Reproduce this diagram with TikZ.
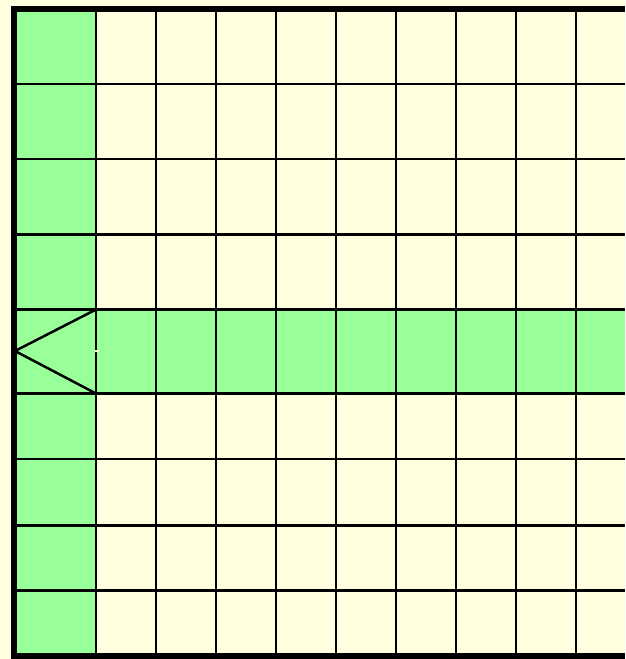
\documentclass[tikz,border=0pt]{standalone}
\definecolor{paleyellow}{HTML}{FFFFE0}
\definecolor{lightgreen}{HTML}{99FF99}
\tikzset{
  gridline/.style={line width=2.5pt, draw=black},
  borderline/.style={line width=6pt, draw=black},
}
\begin{document}
\begin{tikzpicture}[x=1pt,y=-1pt]
\useasboundingbox (0,0) rectangle (625,659);
\clip (0,0) rectangle (625,659);
% background
\fill[paleyellow] (0,0) rectangle (625,659);
% green column and green row
\fill[lightgreen] (14,9) rectangle (96,656);
\fill[lightgreen] (96,309.5) rectangle (625,393.5);
% vertical grid lines
\foreach \x in {96,156,...,576}
  \draw[gridline] (\x,9) -- (\x,656);
% horizontal grid lines
\foreach \y in {84,158.8,234.5,309.5,393.5,458.8,525.5,590.5}
  \draw[gridline] (14,\y) -- (625,\y);
% triangle
\draw[gridline, line join=miter] (96,309.5) -- (15,351) -- (96,393.5);
% small gap in vertical line
\fill[paleyellow] (94.5,350) rectangle (98.5,352.2);
% borders
\draw[borderline] (14,6) -- (14,659);
\draw[borderline] (11,9) -- (625,9);
\draw[borderline] (11,656) -- (625,656);
\end{tikzpicture}
\end{document}
